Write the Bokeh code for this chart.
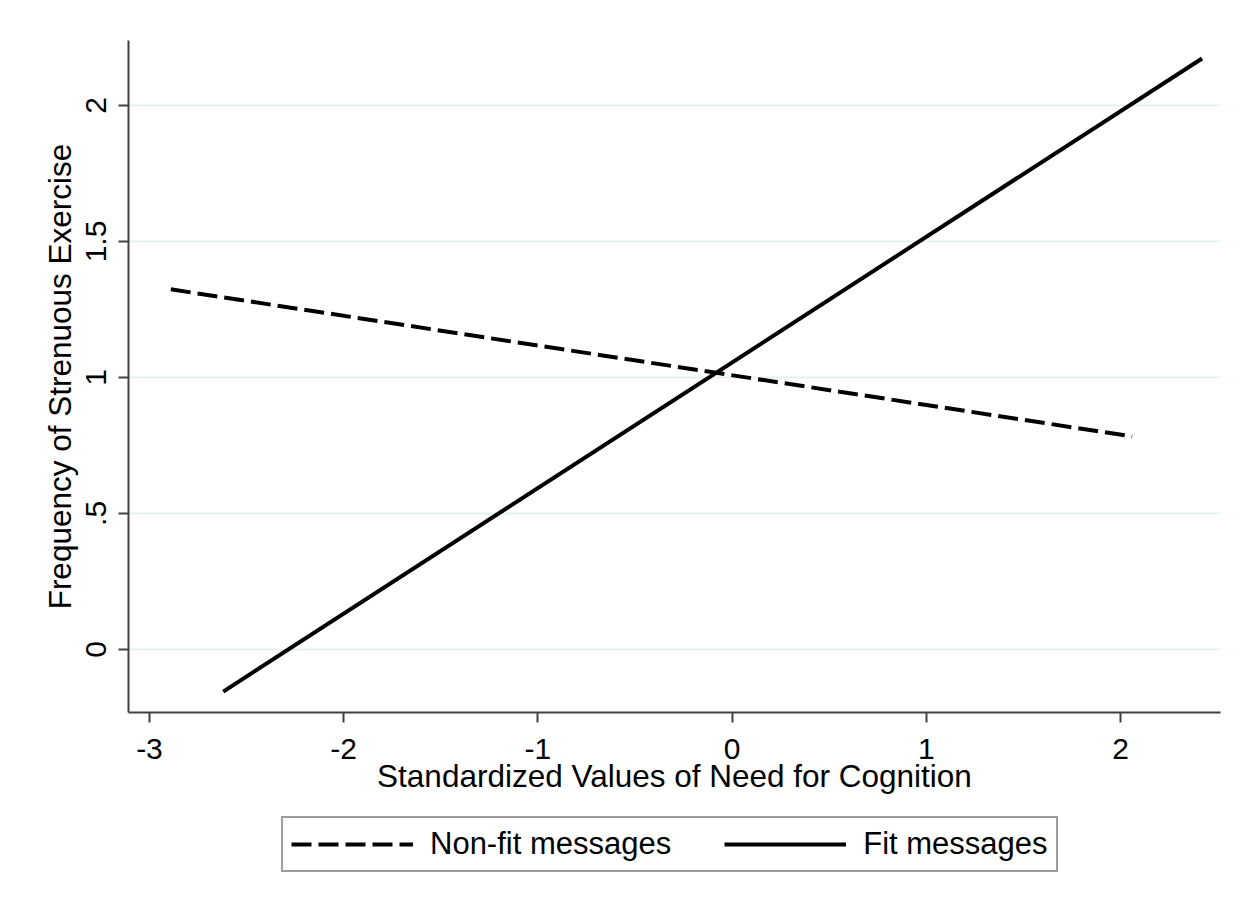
from bokeh.plotting import figure
from bokeh.models import Range1d, FixedTicker, Legend, LegendItem
from bokeh.layouts import column
from bokeh.embed import file_html
from bokeh.resources import INLINE

# Data
nfc_fit = [-2.62, 2.42]
freq_fit = [-0.155, 2.173]
nfc_nonfit = [-2.89, 2.06]
freq_nonfit = [1.324, 0.783]
x_ticks = [-3, -2, -1, 0, 1, 2]
x_tick_labels = ["-3", "-2", "-1", "0", "1", "2"]
y_ticks = [0, 0.5, 1, 1.5, 2]
y_tick_labels = ["0", ".5", "1", "1.5", "2"]
series_labels = ["Non-fit messages", "Fit messages"]

FONT = "Liberation Sans"
DASH = "20 7"

p = figure(width=1235, height=800, output_backend="svg", toolbar_location=None,
           x_range=Range1d(-3.108, 2.515), y_range=Range1d(-0.232, 2.239),
           min_border_left=128, min_border_right=15, min_border_top=40, min_border_bottom=88)
p.background_fill_color = "white"
p.border_fill_color = "white"
p.outline_line_color = None

p.line(nfc_nonfit, freq_nonfit, line_color="black", line_width=4, line_dash=DASH)
p.line(nfc_fit, freq_fit, line_color="black", line_width=4)

p.xaxis.ticker = FixedTicker(ticks=x_ticks)
p.xaxis.major_label_overrides = {t: l for t, l in zip(x_ticks, x_tick_labels)}
p.yaxis.ticker = FixedTicker(ticks=y_ticks)
p.yaxis.major_label_overrides = {t: l for t, l in zip(y_ticks, y_tick_labels)}
p.yaxis.major_label_orientation = "vertical"

for ax in (p.xaxis, p.yaxis):
    ax.axis_line_color = "#404040"
    ax.axis_line_width = 2
    ax.major_tick_line_color = "#404040"
    ax.major_tick_line_width = 2
    ax.major_tick_out = 10
    ax.major_tick_in = 0
    ax.minor_tick_line_color = None
    ax.major_label_text_font = FONT
    ax.major_label_text_font_size = "30px"
    ax.major_label_text_color = "black"
    ax.axis_label_text_font = FONT
    ax.axis_label_text_font_size = "31.5px"
    ax.axis_label_text_font_style = "normal"
    ax.axis_label_text_color = "black"

p.xaxis.axis_label = "Standardized Values of Need for Cognition"
p.yaxis.axis_label = "Frequency of Strenuous Exercise"
p.xaxis.major_label_standoff = 16
p.xaxis.axis_label_standoff = -4
p.yaxis.major_label_standoff = 12
p.yaxis.axis_label_standoff = 6

p.xgrid.grid_line_color = None
p.ygrid.grid_line_color = "#e6eff1"
p.ygrid.grid_line_width = 2

# Legend strip below the plot (Stata-style legend box). The strip's ranges
# keep its own copies of the series out of view; only the legend keys show.
lg = figure(width=1235, height=95, output_backend="svg", toolbar_location=None,
            x_range=Range1d(100, 101), y_range=Range1d(100, 101),
            min_border_left=0, min_border_right=0, min_border_top=0, min_border_bottom=0)
lg.axis.visible = False
lg.grid.visible = False
lg.outline_line_color = None
lg.background_fill_color = "white"
lg.border_fill_color = "white"
g_nonfit = lg.line(nfc_nonfit, freq_nonfit, line_color="black", line_width=4, line_dash=DASH)
g_fit = lg.line(nfc_fit, freq_fit, line_color="black", line_width=4)

legend = Legend(items=[LegendItem(label=series_labels[0], renderers=[g_nonfit]),
                       LegendItem(label=series_labels[1], renderers=[g_fit])],
                orientation="horizontal", location=(153, 23))
legend.label_text_font = FONT
legend.label_text_font_size = "31px"
legend.label_text_color = "black"
legend.glyph_width = 122
legend.glyph_height = 30
legend.label_standoff = 17
legend.spacing = 53
legend.padding = 8
legend.margin = 0
legend.border_line_color = "#404040"
legend.border_line_width = 2
legend.background_fill_color = "white"
legend.background_fill_alpha = 1
lg.add_layout(legend, "center")

layout = column(p, lg, spacing=0)
open("out.html", "w").write(file_html(layout, INLINE))
